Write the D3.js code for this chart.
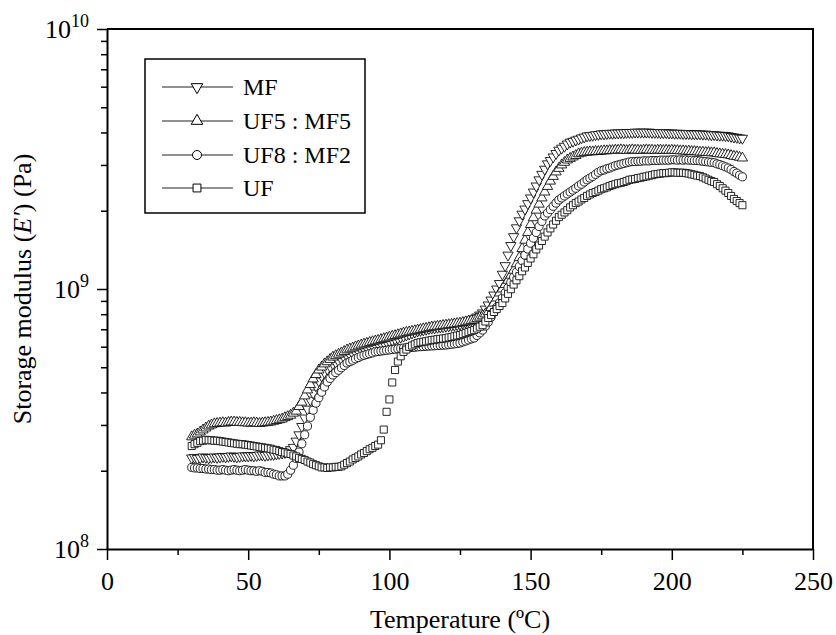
<!DOCTYPE html>
<html><head><meta charset="utf-8">
<script src="https://cdn.jsdelivr.net/npm/d3@7"></script>
<style>body{margin:0;background:#fff}</style>
</head><body><svg id="c" width="836" height="635"></svg>
<script>
// Temperature samples (°C)
const temperature = [30,31,32,33,34,35,36,37,38,39,40,41,42,43,44,45,46,47,48,49,50,51,52,53,54,55,56,57,58,59,60,61,62,63,64,65,66,67,68,69,70,71,72,73,74,75,76,77,78,79,80,81,82,83,84,85,86,87,88,89,90,91,92,93,94,95,96,97,98,99,100,101,102,103,104,105,106,107,108,109,110,111,112,113,114,115,116,117,118,119,120,121,122,123,124,125,126,127,128,129,130,131,132,133,134,135,136,137,138,139,140,141,142,143,144,145,146,147,148,149,150,151,152,153,154,155,156,157,158,159,160,161,162,163,164,165,166,167,168,169,170,171,172,173,174,175,176,177,178,179,180,181,182,183,184,185,186,187,188,189,190,191,192,193,194,195,196,197,198,199,200,201,202,203,204,205,206,207,208,209,210,211,212,213,214,215,216,217,218,219,220,221,222,223,224,225];

// Storage modulus E' in units of 10^8 Pa
const storageMF = [2.24,2.25,2.23,2.24,2.26,2.25,2.24,2.25,2.26,2.25,2.26,
2.27,2.26,2.27,2.28,2.27,2.26,2.27,2.28,2.28,2.28,
2.29,2.28,2.29,2.30,2.30,2.29,2.30,2.31,2.31,2.32,
2.33,2.34,2.35,2.36,2.41,2.46,2.60,2.75,2.96,3.19,
3.45,3.74,3.98,4.24,4.43,4.63,4.78,4.92,5.03,5.15,
5.22,5.27,5.37,5.44,5.52,5.58,5.64,5.70,5.76,5.83,
5.88,5.93,5.99,6.04,6.09,6.14,6.18,6.23,6.27,6.31,
6.36,6.42,6.47,6.53,6.59,6.65,6.71,6.77,6.83,6.89,
6.93,6.96,7.00,7.04,7.07,7.09,7.12,7.14,7.16,7.19,
7.21,7.24,7.26,7.29,7.33,7.39,7.46,7.53,7.60,7.67,
7.80,7.94,8.09,8.37,8.68,9.07,9.48,10.0,10.5,11.4,
12.3,13.5,14.7,15.9,17.2,18.3,19.4,20.3,21.3,22.4,
23.6,24.9,26.3,27.6,28.9,30.3,31.2,32.2,33.2,34.2,
34.8,35.4,36.1,36.7,37.0,37.4,37.7,38.1,38.4,38.8,
38.9,39.0,39.2,39.3,39.5,39.5,39.6,39.7,39.7,39.8,
39.8,39.9,39.9,40.0,40.0,40.0,40.1,40.1,40.1,40.1,
40.1,40.1,40.0,40.0,40.0,39.9,39.9,39.9,39.8,39.8,
39.7,39.7,39.7,39.6,39.6,39.6,39.5,39.5,39.5,39.5,
39.4,39.4,39.3,39.2,39.2,39.1,39.0,39.0,38.9,38.8,
38.6,38.4,38.3,38.1,38.0];

const storageUF5MF5 = [2.70,2.74,2.77,2.82,2.87,2.92,2.97,3.00,3.03,3.04,3.05,
3.06,3.05,3.07,3.08,3.08,3.07,3.07,3.06,3.06,3.05,
3.05,3.06,3.05,3.04,3.05,3.06,3.07,3.08,3.10,3.12,
3.14,3.16,3.20,3.23,3.27,3.33,3.39,3.53,3.67,3.88,
4.09,4.29,4.51,4.69,4.88,5.01,5.15,5.25,5.36,5.47,
5.54,5.61,5.68,5.75,5.83,5.88,5.93,5.99,6.04,6.09,
6.14,6.18,6.23,6.27,6.31,6.35,6.39,6.44,6.48,6.53,
6.58,6.62,6.67,6.72,6.77,6.81,6.84,6.88,6.91,6.95,
6.99,7.03,7.06,7.10,7.14,7.16,7.19,7.21,7.24,7.26,
7.29,7.31,7.34,7.37,7.39,7.43,7.48,7.52,7.56,7.60,
7.69,7.79,7.88,8.02,8.16,8.49,8.83,9.23,9.65,10.0,
10.4,10.8,11.3,11.8,12.5,13.2,14.3,15.4,16.5,17.7,
18.8,20.1,21.2,22.4,23.6,24.8,26.0,27.1,28.2,29.1,
30.0,30.7,31.35,31.8,32.2,32.6,33.1,33.3,33.5,33.6,
33.7,33.7,33.8,33.8,33.9,34.0,34.0,34.1,34.1,34.2,
34.2,34.3,34.2,34.1,34.2,34.3,34.2,34.2,34.1,34.2,
34.3,34.2,34.2,34.1,34.2,34.2,34.1,34.2,34.1,34.2,
34.1,34.1,34.0,34.0,33.9,33.9,33.8,33.8,33.7,33.6,
33.6,33.5,33.5,33.4,33.4,33.2,33.1,33.0,32.9,32.8,
32.6,32.4,32.3,32.1,31.9];

const storageUF8MF2 = [2.06,2.05,2.05,2.04,2.04,2.03,2.03,2.02,2.02,2.01,2.01,
2.02,2.01,2.00,2.01,2.02,2.01,2.00,2.01,2.02,2.01,
2.00,2.00,1.99,2.00,1.99,1.97,1.97,1.96,1.94,1.93,
1.91,1.91,1.91,1.94,2.01,2.10,2.23,2.36,2.54,2.75,
2.97,3.21,3.42,3.64,3.82,4.01,4.20,4.39,4.53,4.67,
4.77,4.87,4.98,5.08,5.19,5.25,5.32,5.39,5.45,5.52,
5.56,5.60,5.64,5.68,5.73,5.75,5.77,5.79,5.81,5.83,
5.85,5.87,5.89,5.91,5.93,5.94,5.95,5.96,5.97,5.99,
6.00,6.01,6.02,6.03,6.04,6.05,6.06,6.07,6.08,6.09,
6.11,6.13,6.15,6.17,6.20,6.26,6.31,6.37,6.43,6.48,
6.63,6.78,6.95,7.20,7.46,7.80,8.16,8.50,8.85,9.23,
9.67,10.1,10.6,11.1,11.6,12.2,12.85,13.5,14.25,15.0,
15.7,16.5,17.4,18.2,19.1,19.6,20.2,20.8,21.4,22.0,
22.4,22.8,23.2,23.6,24.0,24.4,24.9,25.3,25.8,26.3,
26.7,27.1,27.6,28.1,28.5,28.7,29.0,29.2,29.5,29.8,
30.0,30.2,30.4,30.6,30.8,30.9,30.9,31.0,31.0,31.1,
31.1,31.1,31.2,31.2,31.2,31.3,31.3,31.3,31.3,31.4,
31.4,31.3,31.4,31.3,31.4,31.3,31.3,31.2,31.2,31.1,
31.0,30.9,30.8,30.7,30.6,30.3,30.1,29.8,29.5,29.2,
28.8,28.3,27.9,27.4,27.0];

const storageUF = [2.49,2.53,2.56,2.60,2.61,2.63,2.62,2.62,2.61,2.61,2.60,
2.59,2.58,2.57,2.56,2.55,2.54,2.53,2.53,2.52,2.51,
2.50,2.49,2.48,2.47,2.46,2.45,2.44,2.43,2.41,2.40,
2.38,2.36,2.35,2.33,2.32,2.29,2.27,2.24,2.22,2.20,
2.17,2.15,2.12,2.10,2.08,2.06,2.06,2.05,2.06,2.06,
2.07,2.07,2.08,2.11,2.14,2.17,2.21,2.24,2.27,2.31,
2.34,2.38,2.42,2.45,2.49,2.52,2.62,2.88,3.37,3.76,
4.37,4.88,5.26,5.51,5.73,5.85,5.99,6.06,6.13,6.20,
6.24,6.27,6.29,6.33,6.36,6.38,6.41,6.43,6.45,6.47,
6.51,6.54,6.58,6.62,6.65,6.71,6.77,6.83,6.89,6.95,
7.05,7.16,7.26,7.50,7.74,7.94,8.16,8.37,8.60,8.83,
9.20,9.58,9.98,10.4,10.8,11.2,11.7,12.1,12.6,13.1,
13.6,14.2,14.7,15.3,15.9,16.5,17.1,17.7,18.3,18.9,
19.3,19.7,20.1,20.6,21.0,21.4,21.7,22.1,22.4,22.8,
23.1,23.4,23.6,23.9,24.2,24.4,24.6,24.9,25.1,25.3,
25.5,25.6,25.8,26.0,26.3,26.4,26.5,26.7,26.8,27.0,
27.1,27.3,27.4,27.6,27.7,27.8,27.9,27.9,28.0,28.1,
28.1,28.0,28.0,28.0,27.9,27.8,27.6,27.5,27.3,27.2,
26.9,26.6,26.3,26.0,25.8,25.3,24.9,24.4,23.9,23.4,
22.8,22.2,21.8,21.4,21.0];

const seriesNames = ["MF", "UF5 : MF5", "UF8 : MF2", "UF"];
const xTickValues = [0, 50, 100, 150, 200, 250];
const xMinorTickValues = [25, 75, 125, 175, 225];
const yTickExponents = [8, 9, 10];
const unitScale = 1e8;

const seriesData = [storageMF, storageUF5MF5, storageUF8MF2, storageUF];
const symbolDefs = [
  {type: d3.symbolTriangle, size: 46, rot: 180},
  {type: d3.symbolTriangle, size: 46, rot: 0},
  {type: d3.symbolCircle, size: 52, rot: 0},
  {type: d3.symbolSquare, size: 50, rot: 0}
];

const svg = d3.select("#c");
const font = "'Liberation Serif','Times New Roman',Times,serif";
const L = 107, R = 813, T = 29, B = 549;
const x = d3.scaleLinear().domain([0, 250]).range([L, R]);
const y = d3.scaleLog().domain([1e8, 1e10]).range([B, T]);

// data markers
seriesData.forEach((vals, si) => {
  const sd = symbolDefs[si];
  const path = d3.symbol().type(sd.type).size(sd.size)();
  svg.append("g").selectAll("path")
    .data(vals.map((v, i) => [temperature[i], v * unitScale]))
    .join("path")
    .attr("d", path)
    .attr("transform", d => `translate(${x(d[0])},${y(d[1])}) rotate(${sd.rot})`)
    .attr("fill", "#fff")
    .attr("stroke", "#111")
    .attr("stroke-width", 0.9);
});

// x axis
const xAxis = svg.append("g").attr("transform", `translate(0,${B})`)
  .call(d3.axisBottom(x).tickValues(xTickValues).tickSize(11).tickSizeOuter(0).tickPadding(12));
xAxis.selectAll("text").attr("font-family", font).attr("font-size", 26).attr("fill", "#000");
const xMinor = svg.append("g").attr("transform", `translate(0,${B})`)
  .call(d3.axisBottom(x).tickValues(xMinorTickValues).tickSize(6).tickSizeOuter(0).tickFormat(""));
xMinor.select(".domain").remove();

// y axis
const yMajor = yTickExponents.map(e => Math.pow(10, e));
const yMinor = y.ticks(10).filter(v => !yMajor.some(m => Math.abs(m - v) / m < 1e-6));
const yAxis = svg.append("g").attr("transform", `translate(${L},0)`)
  .call(d3.axisLeft(y).tickValues(yMajor).tickSize(10).tickSizeOuter(0).tickFormat(""));
const yMinorG = svg.append("g").attr("transform", `translate(${L},0)`)
  .call(d3.axisLeft(y).tickValues(yMinor).tickSize(6).tickSizeOuter(0).tickFormat(""));
yMinorG.select(".domain").remove();
svg.selectAll(".tick line").attr("stroke", "#000").attr("stroke-width", 1.5);
svg.selectAll(".domain").attr("stroke", "#000").attr("stroke-width", 2);

// y tick labels with superscript exponents
yTickExponents.forEach(e => {
  const t = svg.append("text")
    .attr("x", 89).attr("y", y(Math.pow(10, e)) + 9)
    .attr("text-anchor", "end")
    .attr("font-family", font).attr("font-size", 26).attr("fill", "#000");
  t.append("tspan").text("10");
  t.append("tspan").attr("font-size", 18).attr("dy", -11).text(String(e));
});

// frame top & right
svg.append("path")
  .attr("d", `M${L},${T}H${R}V${B}`)
  .attr("fill", "none").attr("stroke", "#000").attr("stroke-width", 2);

// axis titles
svg.append("text")
  .attr("x", (L + R) / 2).attr("y", 628)
  .attr("text-anchor", "middle")
  .attr("font-family", font).attr("font-size", 26).attr("fill", "#000")
  .text("Temperature (ºC)");
const yt = svg.append("text")
  .attr("transform", `translate(31,${(T + B) / 2}) rotate(-90)`)
  .attr("text-anchor", "middle")
  .attr("font-family", font).attr("font-size", 26).attr("fill", "#000");
yt.append("tspan").text("Storage modulus (");
yt.append("tspan").attr("font-style", "italic").text("E'");
yt.append("tspan").text(") (Pa)");

// legend
const lg = svg.append("g");
lg.append("rect").attr("x", 145).attr("y", 59).attr("width", 220).attr("height", 154)
  .attr("fill", "#fff").attr("stroke", "#000").attr("stroke-width", 1.5);
const rowY = [87, 121, 155, 188];
seriesNames.forEach((name, i) => {
  const sd = symbolDefs[i];
  lg.append("line").attr("x1", 162).attr("x2", 233).attr("y1", rowY[i]).attr("y2", rowY[i])
    .attr("stroke", "#222").attr("stroke-width", 1.2);
  lg.append("path").attr("d", d3.symbol().type(sd.type).size(sd.size + 12)())
    .attr("transform", `translate(197,${rowY[i]}) rotate(${sd.rot})`)
    .attr("fill", "#fff").attr("stroke", "#000").attr("stroke-width", 1);
  lg.append("text").attr("x", 243).attr("y", rowY[i] + 8)
    .attr("font-family", font).attr("font-size", 24).attr("fill", "#000")
    .text(name);
});
</script>
</body></html>
